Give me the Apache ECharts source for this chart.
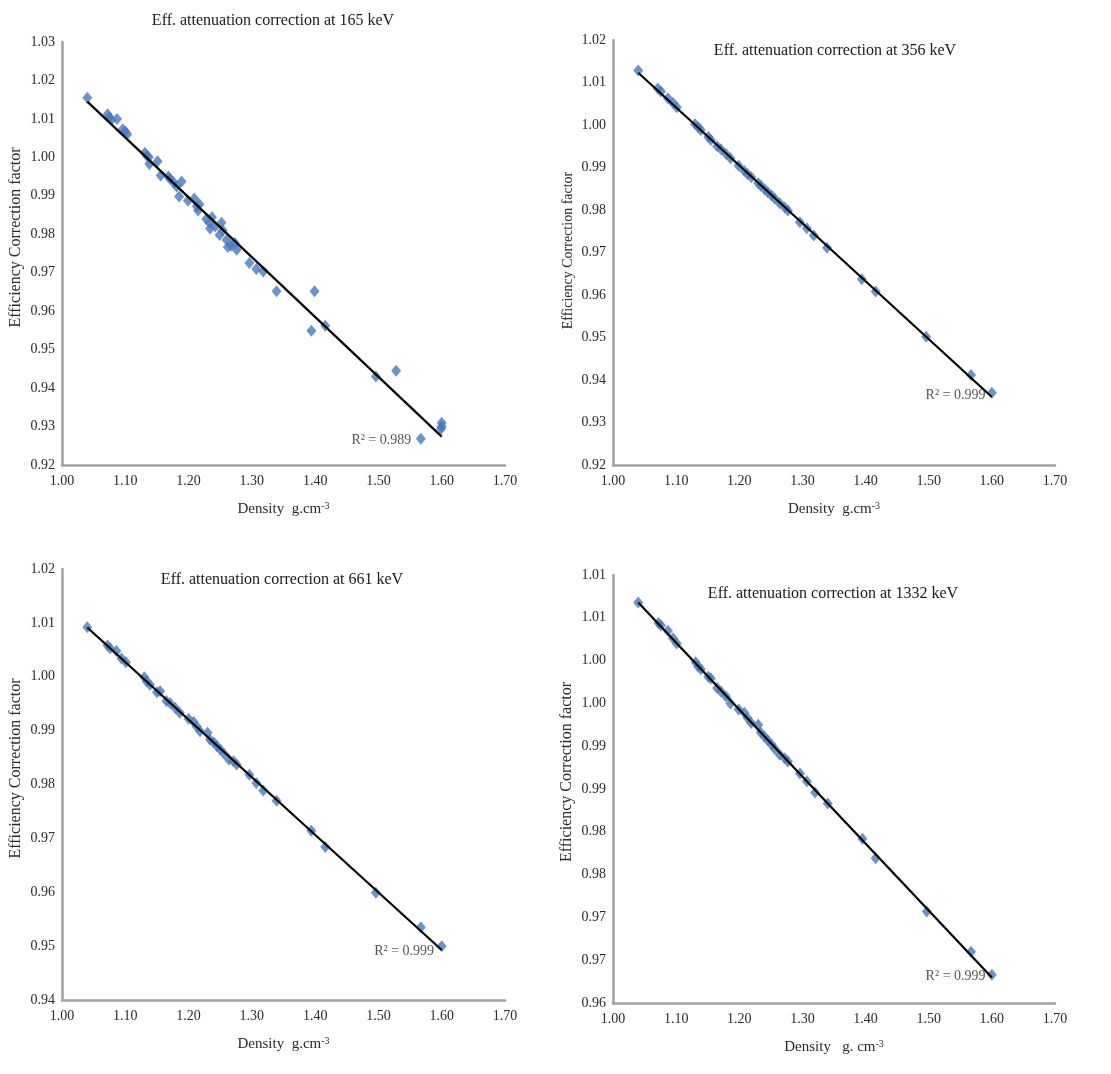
<!DOCTYPE html>
<html>
<head>
<meta charset="utf-8">
<script src="https://cdn.jsdelivr.net/npm/echarts@6/dist/echarts.min.js"></script>
<style>
html,body{margin:0;padding:0;background:#fff;}
#c{width:1111px;height:1074px;}
</style>
</head>
<body>
<div id="c"></div>
<script>
// ---------- data ----------
const titles = [
  'Eff. attenuation correction at 165 keV',
  'Eff. attenuation correction at 356 keV',
  'Eff. attenuation correction at 661 keV',
  'Eff. attenuation correction at 1332 keV'
];
const xAxisNames = ['Density  g.cm{sup|-3}', 'Density  g.cm{sup|-3}', 'Density  g.cm{sup|-3}', 'Density   g. cm{sup|-3}'];
const yAxisName = 'Efficiency Correction factor';
const r2Text = ['R² = 0.989', 'R² = 0.999', 'R² = 0.999', 'R² = 0.999'];

const xMin = 1.00, xMax = 1.70, xInterval = 0.10;
const yMins = [0.92, 0.92, 0.94, 0.96];
const yMaxs = [1.03, 1.02, 1.02, 1.01];
const yIntervals = [0.01, 0.01, 0.01, 0.005];

// 165 keV
const density165 = [1.040,1.072,1.075,1.078,1.087,1.096,1.100,1.103,1.131,1.134,1.137,1.138,1.151,1.156,1.168,1.171,1.176,1.181,1.185,1.189,1.199,1.209,1.213,1.217,1.215,1.228,1.233,1.237,1.234,1.242,1.249,1.252,1.254,1.260,1.262,1.267,1.273,1.276,1.296,1.307,1.318,1.339,1.394,1.399,1.416,1.496,1.528,1.567,1.600,1.600,1.599];
const eff165 = [1.0155,1.0112,1.0104,1.0098,1.0100,1.0073,1.0067,1.0060,1.0012,1.0005,1.0000,0.9983,0.9990,0.9953,0.9950,0.9944,0.9935,0.9924,0.9898,0.9937,0.9887,0.9893,0.9873,0.9878,0.9862,0.9840,0.9830,0.9844,0.9815,0.9820,0.9798,0.9830,0.9810,0.9785,0.9767,0.9770,0.9777,0.9760,0.9725,0.9710,0.9703,0.9652,0.9549,0.9652,0.9562,0.9430,0.9445,0.9268,0.9310,0.9300,0.9294];

// 356 keV
const density356 = [1.040,1.071,1.076,1.087,1.095,1.101,1.130,1.135,1.139,1.151,1.155,1.165,1.171,1.179,1.186,1.199,1.208,1.213,1.219,1.230,1.234,1.240,1.245,1.251,1.256,1.264,1.272,1.277,1.296,1.307,1.318,1.339,1.394,1.416,1.496,1.567,1.600];
const eff356 = [1.0128,1.0086,1.0079,1.0063,1.0052,1.0042,1.0002,0.9995,0.9988,0.9972,0.9965,0.9950,0.9943,0.9932,0.9922,0.9904,0.9892,0.9885,0.9877,0.9863,0.9857,0.9849,0.9842,0.9834,0.9827,0.9816,0.9806,0.9799,0.9771,0.9757,0.9740,0.9711,0.9637,0.9608,0.9502,0.9412,0.9370];

// 661 keV
const density661 = [1.040,1.072,1.076,1.086,1.094,1.101,1.130,1.134,1.139,1.150,1.155,1.165,1.171,1.179,1.186,1.200,1.208,1.213,1.218,1.230,1.234,1.240,1.245,1.250,1.256,1.264,1.271,1.276,1.296,1.307,1.318,1.339,1.394,1.416,1.496,1.567,1.600];
const eff661 = [1.0092,1.0058,1.0053,1.0048,1.0034,1.0027,0.9999,0.9991,0.9985,0.9971,0.9973,0.9955,0.9951,0.9942,0.9933,0.9922,0.9916,0.9907,0.9899,0.9896,0.9883,0.9878,0.9871,0.9865,0.9857,0.9846,0.9843,0.9837,0.9818,0.9803,0.9789,0.9770,0.9714,0.9684,0.9599,0.9535,0.9500];

// 1332 keV
const density1332 = [1.040,1.072,1.076,1.087,1.095,1.101,1.131,1.135,1.139,1.151,1.155,1.165,1.171,1.179,1.186,1.199,1.208,1.213,1.219,1.230,1.234,1.240,1.245,1.251,1.256,1.264,1.272,1.277,1.296,1.307,1.320,1.340,1.395,1.416,1.497,1.567,1.600];
const eff1332 = [1.0068,1.0044,1.0041,1.0035,1.0026,1.0020,0.9998,0.9993,0.9990,0.9981,0.9979,0.9968,0.9964,0.9958,0.9950,0.9943,0.9939,0.9933,0.9927,0.9925,0.9916,0.9911,0.9907,0.9902,0.9897,0.9890,0.9886,0.9882,0.9868,0.9859,0.9846,0.9833,0.9792,0.9769,0.9707,0.9660,0.9633];

// ---------- layout (not data) ----------
const grids = [
  {left: 62,  top: 42,  width: 443, height: 423},
  {left: 613, top: 40,  width: 442, height: 425},
  {left: 62,  top: 569, width: 443, height: 431},
  {left: 613, top: 575, width: 442, height: 428}
];
const titlePos = [
  {x: 268, y: 8},
  {x: 830, y: 38},
  {x: 277, y: 567},
  {x: 828, y: 581}
];
const yNameSize = [16, 14, 16, 16];
const yNameShift = [32, 4, 32, 34];
// R² label anchors (data coords of text right end)
const r2Anchor = [[1.552, 0.9265], [1.590, 0.9363], [1.588, 0.9490], [1.590, 0.9631]];

const densities = [density165, density356, density661, density1332];
const effs = [eff165, eff356, eff661, eff1332];

function fmt2(v){ return (Math.round(v*100 + 1e-6)/100).toFixed(2); }

function fit(xs, ys){
  const n = xs.length;
  let sx=0, sy=0, sxx=0, sxy=0;
  for(let i=0;i<n;i++){ sx+=xs[i]; sy+=ys[i]; sxx+=xs[i]*xs[i]; sxy+=xs[i]*ys[i]; }
  const b = (n*sxy - sx*sy)/(n*sxx - sx*sx);
  const a = (sy - b*sx)/n;
  return {a, b};
}

const font = 'Liberation Serif';
const textColor = '#2b2b2b';
const axisLineColor = '#a0a0a0';

const option = {
  backgroundColor: '#fff',
  animation: false,
  title: titles.map((t,i)=>({
    text: t, left: titlePos[i].x, top: titlePos[i].y, textAlign: 'center',
    textStyle: {fontFamily: font, fontSize: 16, fontWeight: 'normal', color: '#1a1a1a'}
  })),
  grid: grids.map(g=>Object.assign({containLabel:false}, g)),
  xAxis: grids.map((g,i)=>({
    type: 'value', gridIndex: i, min: xMin, max: xMax, interval: xInterval,
    name: xAxisNames[i], nameLocation: 'middle', nameGap: 36,
    nameTextStyle: {fontFamily: font, fontSize: 15, color: textColor,
      rich: {sup: {fontFamily: font, fontSize: 10, verticalAlign: 'top', padding: [0,0,6,0], color: textColor}}},
    axisLine: {show: true, onZero: false, lineStyle: {color: axisLineColor, width: 2.5}},
    axisTick: {show: false},
    splitLine: {show: false},
    axisLabel: {fontFamily: font, fontSize: 14, color: textColor, margin: 9, formatter: fmt2}
  })),
  yAxis: grids.map((g,i)=>({
    type: 'value', gridIndex: i, min: yMins[i], max: yMaxs[i], interval: yIntervals[i],
    name: yAxisName, nameLocation: 'middle', nameGap: 38,
    nameTextStyle: {fontFamily: font, fontSize: yNameSize[i], color: textColor, padding: [0,0,0,yNameShift[i]]},
    axisLine: {show: true, onZero: false, lineStyle: {color: axisLineColor, width: 2.5}},
    axisTick: {show: false},
    splitLine: {show: false},
    axisLabel: {fontFamily: font, fontSize: 14, color: textColor, margin: 7, formatter: fmt2}
  })),
  series: []
};

for(let i=0;i<4;i++){
  const xs = densities[i], ys = effs[i];
  const pts = xs.map((x,k)=>[x, ys[k]]);
  const f = fit(xs, ys);
  const x0 = Math.min.apply(null, xs), x1 = Math.max.apply(null, xs);
  option.series.push({
    type: 'scatter', xAxisIndex: i, yAxisIndex: i, data: pts,
    symbol: 'diamond', symbolSize: [10, 12],
    itemStyle: {color: '#4679be'}, z: 2
  });
  option.series.push({
    type: 'line', xAxisIndex: i, yAxisIndex: i,
    data: [[x0, f.a + f.b*x0], [x1, f.a + f.b*x1]],
    showSymbol: false, symbol: 'none',
    lineStyle: {color: '#000', width: 2.2}, z: 3
  });
  option.series.push({
    type: 'scatter', xAxisIndex: i, yAxisIndex: i,
    data: [r2Anchor[i]], symbolSize: 0, silent: true,
    label: {show: true, position: 'left', distance: 0, formatter: r2Text[i],
      fontFamily: font, fontSize: 14, color: textColor}, z: 4
  });
}

const chart = echarts.init(document.getElementById('c'), null, {renderer: 'canvas'});
chart.setOption(option);
</script>
</body>
</html>
